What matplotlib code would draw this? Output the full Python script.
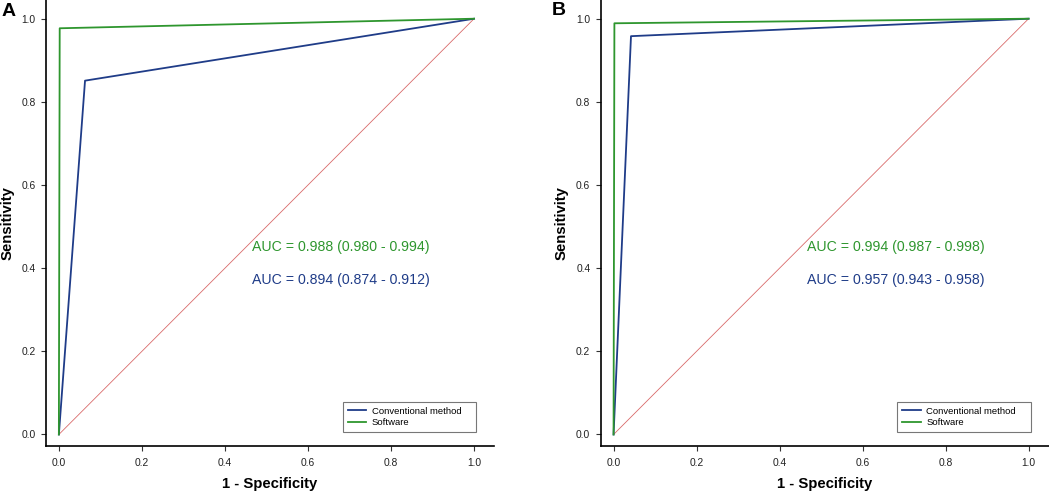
import matplotlib
matplotlib.use("Agg")
import matplotlib.pyplot as plt

plt.rcParams['font.family'] = ['Liberation Sans', 'DejaVu Sans']

# Data
panels = ["A", "B"]
conv_fpr = [[0.0, 0.063, 1.0], [0.0, 0.042, 1.0]]
conv_tpr = [[0.0, 0.851, 1.0], [0.0, 0.958, 1.0]]
soft_fpr = [[0.0, 0.002, 1.0], [0.0, 0.002, 1.0]]
soft_tpr = [[0.0, 0.977, 1.0], [0.0, 0.989, 1.0]]
auc_soft = ["AUC = 0.988 (0.980 - 0.994)", "AUC = 0.994 (0.987 - 0.998)"]
auc_conv = ["AUC = 0.894 (0.874 - 0.912)", "AUC = 0.957 (0.943 - 0.958)"]
ticks = [0.0, 0.2, 0.4, 0.6, 0.8, 1.0]
tick_labels = ["0.0", "0.2", "0.4", "0.6", "0.8", "1.0"]
series_names = ["Conventional method", "Software"]

BLUE = "#1F3C88"
GREEN = "#2E962E"
RED = "#D96A6A"

W, H = 1049, 491
fig = plt.figure(figsize=(W / 100, H / 100), dpi=100)

axes_px = [(46, 494), (600.7, 1048.5)]
bottom_px = 445.7
letter_pos = [(9, 11.5), (558.7, 10.5)]

for i, p in enumerate(panels):
    l, r = axes_px[i]
    ax = fig.add_axes([l / W, (H - bottom_px) / H, (r - l) / W, bottom_px / H])
    ax.set_xlim(-0.031, 1.048)
    ax.set_ylim(-0.027, 1.045)
    ax.plot([0, 1], [0, 1], color=RED, lw=0.6)
    ax.plot(conv_fpr[i], conv_tpr[i], color=BLUE, lw=1.3, label=series_names[0])
    ax.plot(soft_fpr[i], soft_tpr[i], color=GREEN, lw=1.3, label=series_names[1])
    ax.text(0.68, 0.451, auc_soft[i], color=GREEN, fontsize=10.2, ha="center", va="center")
    ax.text(0.68, 0.371, auc_conv[i], color=BLUE, fontsize=10.2, ha="center", va="center")
    for s in ["top", "right"]:
        ax.spines[s].set_visible(False)
    for s in ["left", "bottom"]:
        ax.spines[s].set_linewidth(1.2)
    ax.set_xticks(ticks)
    ax.set_xticklabels(tick_labels)
    ax.set_yticks(ticks)
    ax.set_yticklabels(tick_labels)
    ax.tick_params(axis="both", labelsize=7.4, length=3.5, width=0.8,
                   color="#333333", labelcolor="#222222")
    ax.tick_params(axis="x", pad=5)
    ax.tick_params(axis="y", pad=4)
    ax.set_xlabel("1 - Specificity", fontsize=10.7, fontweight="bold", labelpad=7)
    ax.set_ylabel("Sensitivity", fontsize=10.7, fontweight="bold", labelpad=5)
    leg = ax.legend(loc="lower left", bbox_to_anchor=(0.684, 0.0055, 0.321, 0.075),
                    bbox_transform=ax.transData, borderaxespad=0, mode="expand",
                    fontsize=6.8, frameon=True, fancybox=False,
                    handlelength=2.0, handletextpad=0.55, borderpad=0.5,
                    labelspacing=0.3)
    leg.get_frame().set_edgecolor("#555555")
    leg.get_frame().set_linewidth(0.8)
    lx, ly = letter_pos[i]
    fig.text(lx / W, 1 - ly / H, p, fontsize=14, fontweight="bold",
             ha="center", va="center")

fig.savefig("out.png", dpi=100)
